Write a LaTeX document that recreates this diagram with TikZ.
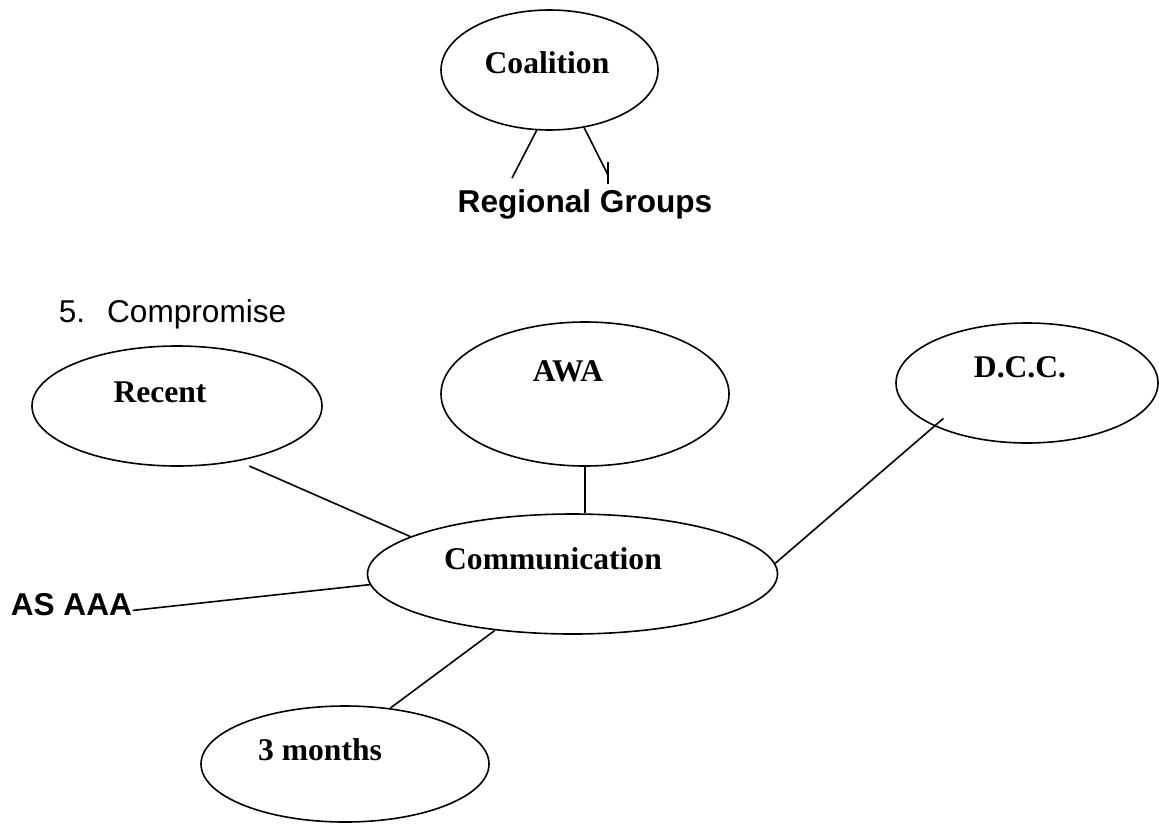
\documentclass[tikz,border=0pt]{standalone}
\usepackage{fontspec}
\setmainfont{Liberation Serif}
\newfontfamily\arialfont{Liberation Sans}
\usetikzlibrary{shapes.geometric}

\begin{document}
\begin{tikzpicture}[x=0.5pt,y=-0.5pt,line width=0.8pt,
    bubble/.style={draw,ellipse,inner sep=0pt},
    tag/.style={inner sep=0pt,anchor=base,font=\fontsize{15.8}{19}\selectfont\bfseries},
    sanstag/.style={inner sep=0pt,anchor=base,font=\arialfont\fontsize{15.8}{19}\selectfont\bfseries},
    heading/.style={inner sep=0pt,anchor=base west,font=\arialfont\fontsize{15.8}{19}\selectfont}]
    \useasboundingbox (0,0) rectangle (1159,824);

    % top part
    \node[bubble,minimum width=108.5pt,minimum height=60pt] (coalition) at (549.5,70) {};
    \node[tag] (coalitiontxt) at (547,74) {Coalition};
    \node[sanstag] (groups) at (585,212) {Regional Groups};
    \coordinate (rgl) at (512,178);
    \coordinate (rgr) at (608,175);
    \draw (coalition.-102) -- (rgl);
    \draw (coalition.-59) -- (rgr);
    \draw (rgr) ++(0,-13) -- ++(0,22);

    \node[heading] (compromise) at (58,322) {5.\hspace{11pt}Compromise};

    % bubbles round communication
    \node[bubble,minimum width=145pt,minimum height=60pt] (recent) at (177,406) {};
    \node[tag] (recenttxt) at (160,402) {Recent};

    \node[bubble,minimum width=144pt,minimum height=72pt] (awa) at (585,394) {};
    \node[tag] (awatxt) at (568,381) {AWA};

    \node[bubble,minimum width=131pt,minimum height=60pt] (dcc) at (1027,383) {};
    \node[tag] (dcctxt) at (1020,377) {D.C.C.};

    \node[bubble,minimum width=205pt,minimum height=60pt] (comm) at (572.5,574) {};
    \node[tag] (commtxt) at (553,569) {Communication};

    \node[bubble,minimum width=144pt,minimum height=58pt] (months) at (345,764) {};
    \node[tag] (monthstxt) at (320,760) {3 months};

    \node[sanstag,anchor=base west] (asaaa) at (10,615) {AS AAA};

    \draw[shorten <=6pt] (recent.-42) -- (comm.167);
    \draw (awa.south) -- (awa.south |- comm.north);
    \draw[shorten <=-6pt] (dcc.205) -- (comm.3);
    \draw (asaaa.mid east) -- (comm.183);
    \draw (months.51) -- (comm.-144);
\end{tikzpicture}
\end{document}
